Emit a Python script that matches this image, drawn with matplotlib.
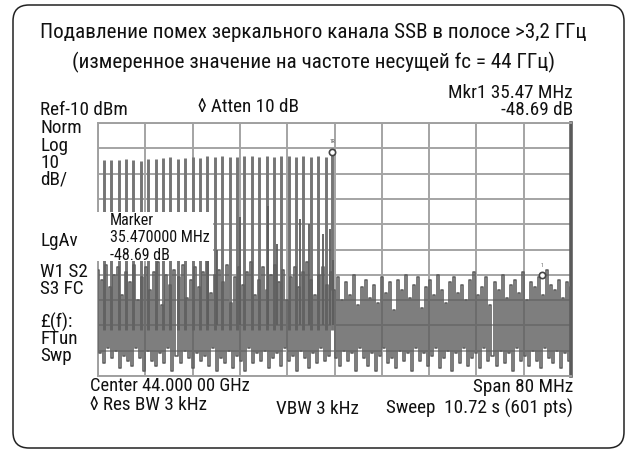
import numpy as np
import matplotlib
matplotlib.use('Agg')
import matplotlib.pyplot as plt
from matplotlib.patches import Rectangle, FancyBboxPatch
from matplotlib.transforms import IdentityTransform
from matplotlib import font_manager

W, H = 629, 452

# sweep setup: center 44 GHz, span 80 MHz, ref -10 dBm, 10 dB/div
span_start, span_stop = -40.0, 40.0
ref_level, db_div = -10.0, 10.0

# main comb of tones (offset from center, MHz) and their peak levels (dBm)
comb_freq = [-39.0, -37.75, -36.5, -35.25, -34.0, -32.75, -31.5, -30.25,
             -29.0, -27.75, -26.5, -25.25, -24.0, -22.75, -21.5, -20.25,
             -19.0, -17.75, -16.5, -15.25, -14.0, -12.75, -11.5, -10.25,
             -9.0, -7.75, -6.5, -5.25, -4.0, -2.75, -1.5, -0.4]
comb_level = [-24.5, -24.8, -24.6, -24.2, -24.6, -24.9, -24.3, -24.4,
              -23.9, -23.6, -24.1, -23.8, -23.4, -23.9, -23.2, -23.5,
              -23.1, -23.3, -23.6, -23.0, -23.2, -23.4, -23.1, -23.3,
              -23.0, -23.2, -23.5, -23.1, -23.3, -23.0, -23.4, -21.3]

# secondary spurs between the tones
spur_freq = [-21.4, -19.9, -16.0, -11.2, -9.7, -5.8, -4.3, -2.0, -0.8, -0.3]
spur_level = [-45.0, -60.0, -47.0, -43.0, -58.0, -48.0, -50.0, -54.0, -52.0, -64.0]

# noise floor / image band trace (dBm), left to right across the span
floor_level = [
    -68, -101, -72, -105, -66, -99, -75, -103, -70, -100, -67, -107, -78, -102, -69, -104, -73, -106, -66, -99,
    -80, -103, -71, -108, -67, -100, -76, -104, -69, -106, -65, -101, -82, -105, -70, -99, -74, -108, -68, -102,
    -71, -105, -66, -100, -79, -103, -72, -107, -67, -101, -75, -104, -69, -102, -64, -106, -77, -99, -70, -108,
    -68, -103, -73, -105, -66, -100, -81, -107, -71, -102, -67, -104, -74, -108, -69, -99, -65, -105, -78, -101,
    -72, -104, -67, -100, -76, -107, -70, -103, -66, -101, -73, -106, -68, -99, -80, -104, -71, -102, -67, -108,
    -75, -100, -69, -103, -65, -107, -72, -101, -78, -105, -70, -99, -67, -104, -74, -102, -69,
    -76, -103, -71, -106, -80, -100, -73, -104, -78, -101, -70, -108, -82, -99, -75, -103, -72, -106, -79, -101,
    -74, -108, -81, -102, -71, -99, -77, -105, -73, -103, -84, -107, -72, -100, -76, -104, -70, -101, -79, -108,
    -74, -99, -71, -104, -83, -101, -75, -106, -72, -102, -78, -99, -70, -107, -76, -103, -81, -100, -73, -108,
    -71, -101, -77, -105, -74, -99, -80, -106, -72, -103, -69, -101, -78, -107, -75, -99, -71, -104, -82, -102,
    -73, -106, -76, -100, -70, -105, -79, -101, -74, -108, -72, -99, -77, -104, -69, -102, -80, -106, -73, -100,
    -75, -104, -71, -107, -78, -99, -68, -103, -74, -105, -76, -100, -72, -107, -79, -101, -73, -104, -75]

# delta marker readout
delta_freq = 35.47
delta_db = -48.69

ref_mkr_freq = comb_freq[-1]
ref_mkr_level = comb_level[-1]
mkr_freq = ref_mkr_freq + delta_freq
mkr_level = ref_mkr_level + delta_db

# look for a narrow face for the instrument lettering
narrow_stretch = ('condensed', 'semi-condensed', 'extra-condensed', 'ultra-condensed')
font_name, font_stretch = None, 'normal'
for pref in ['Liberation Sans Narrow', 'Roboto Condensed', 'Open Sans Condensed',
             'Noto Sans Condensed', 'DejaVu Sans Condensed']:
    if any(f.name == pref for f in font_manager.fontManager.ttflist):
        font_name = pref
        break
if font_name is None:
    for f in font_manager.fontManager.ttflist:
        if f.stretch in narrow_stretch and 'Mono' not in f.name and 'Serif' not in f.name:
            font_name, font_stretch = f.name, f.stretch
            break
scale = 1.15
if font_name is None:
    font_name, scale = 'Liberation Sans', 1.0
plt.rcParams['font.family'] = [font_name, 'DejaVu Sans']
plt.rcParams['font.stretch'] = font_stretch

fig = plt.figure(figsize=(W / 100, H / 100), dpi=100)
fig.patch.set_facecolor('white')


def ftxt(x, y, s, size=12, ha='left', **kw):
    fig.text(x / W, 1 - y / H, s, fontsize=size * scale, ha=ha, va='center',
             color='#111111', **kw)


# screen area
l, r, t, b = 98, 571, 124, 377
ax = fig.add_axes([l / W, 1 - b / H, (r - l) / W, (b - t) / H])
ax.set_xlim(span_start, span_stop)
ax.set_ylim(ref_level - 10 * db_div, ref_level)
ax.set_xticks(np.linspace(span_start, span_stop, 11))
ax.set_yticks(np.arange(ref_level - 10 * db_div, ref_level + 1, db_div))
ax.tick_params(length=0, labelbottom=False, labelleft=False)
ax.grid(True, color='#a4a4a4', lw=1.4)
ax.set_axisbelow(True)
for side, sp in ax.spines.items():
    sp.set_color('#a0a0a0')
    sp.set_linewidth(1.4)
ax.spines['right'].set_color('#5a5a5a')
ax.spines['right'].set_linewidth(2.6)

# trace drawn the way the analyzer does: vertical strokes between sweep points
fx = np.linspace(span_start, span_stop, len(floor_level))
ax.plot(fx, floor_level, color='#5e5e5e', lw=1.15, drawstyle='steps-mid', zorder=3)
ax.vlines(comb_freq, -92, comb_level, colors='#757575', lw=2.1, zorder=2)
ax.vlines(spur_freq, -90, spur_level, colors='#5c5c5c', lw=1.3, zorder=2)

# markers
ax.plot([ref_mkr_freq], [ref_mkr_level], marker='o', ms=4.5, mfc='white',
        mec='#444444', mew=1.2, zorder=5)
ax.plot([mkr_freq], [mkr_level], marker='o', ms=4.5, mfc='white',
        mec='#444444', mew=1.2, zorder=5)
ax.text(ref_mkr_freq, ref_mkr_level + 3.2, '1R', fontsize=4, ha='center', va='bottom',
        color='#555555', zorder=5)
ax.text(mkr_freq, mkr_level + 3.2, '1', fontsize=4, ha='center', va='bottom',
        color='#555555', zorder=5)

# marker readout box
fig.patches.append(Rectangle((97 / W, 1 - 262 / H), (213 - 97) / W, (262 - 213) / H,
                             transform=fig.transFigure, facecolor='white',
                             edgecolor='none', zorder=2))
ftxt(110, 221, 'Marker', size=10)
ftxt(110, 238, '35.470000 MHz', size=10)
ftxt(110, 255, '-48.69 dB', size=10)

# outer rounded frame
frame = FancyBboxPatch((13, 3), 611, 443, boxstyle='round,pad=0,rounding_size=16',
                       transform=IdentityTransform(), facecolor='none',
                       edgecolor='#222222', lw=1.1)
fig.patches.append(frame)

# titles
ftxt(313, 33, 'Подавление помех зеркального канала SSB в полосе >3,2 ГГц', size=13.2, ha='center')
ftxt(313, 62, '(измеренное значение на частоте несущей fc = 44 ГГц)', size=13.2, ha='center')

# header readouts
ftxt(573, 93, 'Mkr1 35.47 MHz', ha='right')
ftxt(573, 110, '-48.69 dB', ha='right')
ftxt(40, 110, 'Ref-10 dBm')
ftxt(198, 107, '\u25ca Atten 10 dB')

# left annotation column
side_labels = [('Norm', 128), ('Log', 146), ('10', 163), ('dB/', 180), ('LgAv', 241),
               ('W1 S2', 272), ('S3 FC', 289), ('\u00a3(f):', 322), ('FTun', 339), ('Swp', 356)]
for s, y in side_labels:
    ftxt(40, y, s)

# footer readouts
ftxt(90, 386, 'Center 44.000 00 GHz', size=11.6)
ftxt(90, 405, '\u25ca Res BW 3 kHz')
ftxt(276, 409, 'VBW 3 kHz')
ftxt(573, 387, 'Span 80 MHz', ha='right')
ftxt(573, 408, 'Sweep  10.72 s (601 pts)', ha='right')

fig.savefig('out.png', dpi=100)
